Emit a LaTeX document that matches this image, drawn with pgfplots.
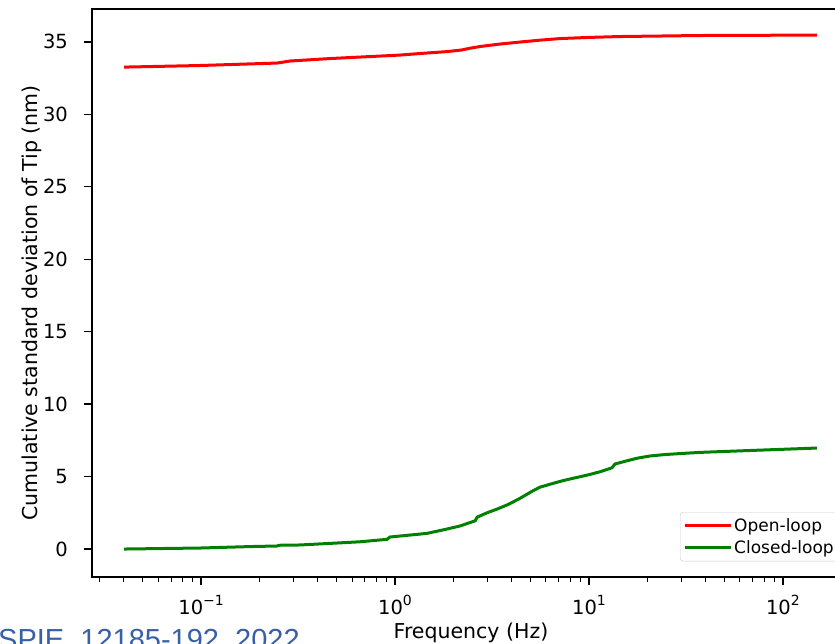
\documentclass[border=0pt]{standalone}
\usepackage{fontspec}
\setmainfont{DejaVu Sans}
\newfontfamily\spiefont{Liberation Sans}
\usepackage{pgfplots}
\pgfplotsset{compat=1.18}
\definecolor{spieblue}{RGB}{55,96,168}
\definecolor{mplgreen}{RGB}{0,128,0}
\newcommand{\expo}[1]{\raisebox{0.45em}{\fontsize{14}{14}\selectfont #1}}
\begin{document}
\begin{tikzpicture}[x=1pt,y=1pt]
\useasboundingbox (0,0) rectangle (835,643);
\clip (0,0) rectangle (835,643);
\begin{axis}[
  at={(92pt,66pt)}, anchor=south west,
  scale only axis, width=760pt, height=568pt,
  xmode=log,
  xmin=0.02739, xmax=227,
  ymin=-1.93, ymax=37.27,
  axis line style={line width=1.6pt},
  tick align=outside,
  tick style={black, line width=1.4pt},
  major tick length=8pt, minor tick length=5pt,
  minor tick style={line width=1pt},
  xtick={0.1,1,10,100},
  minor xtick={0.03,0.04,0.05,0.06,0.07,0.08,0.09,0.2,0.3,0.4,0.5,0.6,0.7,0.8,0.9,2,3,4,5,6,7,8,9,20,30,40,50,60,70,80,90,200},
  xticklabels={10\expo{−1},10\expo{0},10\expo{1},10\expo{2}},
  ytick={0,5,10,15,20,25,30,35},
  xtick pos=bottom, ytick pos=left,
  /pgf/number format/assume math mode=true,
  tick label style={font=\fontsize{19.5}{23}\selectfont},
  yticklabel style={inner sep=0pt, xshift=-16pt, anchor=east},
  xticklabel style={inner sep=0pt, anchor=base, yshift=-29pt},
  legend style={at={(axis description cs:0.7737,0.1144)}, anchor=north west,
    draw=black!20, rounded corners=3pt, fill=white,
    font=\fontsize{17}{20}\selectfont, inner xsep=3pt, inner ysep=4pt,
    row sep=4pt},
  legend cell align=left,
  legend image code/.code={\path (0pt,0pt) -- (46pt,0pt); \draw[#1] (0pt,0pt) -- (38pt,0pt);},
]
\addplot[red, line width=3pt] coordinates {
(0.0401,33.26) (0.099,33.37) (0.2465,33.54) (0.2875,33.68) (0.462,33.85)
(1.06,34.09) (1.35,34.2) (1.854,34.33) (2.2,34.44) (2.43,34.56) (2.74,34.68) (3.47,34.85) (4.41,34.99)
(5.59,35.12) (7.09,35.23) (10.1,35.31) (14.45,35.37) (37.3,35.44) (149.7,35.47)
};
\addlegendentry{Open-loop}
\addplot[mplgreen, line width=3pt] coordinates {
(0.0401,0.00) (0.099,0.07) (0.179,0.17) (0.2465,0.21) (0.252,0.26) (0.324,0.28) (0.660,0.5)
(0.909,0.67) (0.942,0.83) (1.462,1.08) (1.81,1.35) (2.16,1.59) (2.59,1.95)
(2.65,2.2) (2.98,2.5) (3.35,2.75) (3.78,3.04) (4.06,3.25) (4.41,3.5) (5.14,4.02) (5.59,4.27) (6.52,4.53)
(7.34,4.72) (8.27,4.88) (9.77,5.1) (11.4,5.33) (13.14,5.61) (13.62,5.87) (15.7,6.09)
(17.9,6.28) (20.6,6.42) (24.6,6.52) (30.5,6.6) (37.3,6.67) (67.6,6.8) (149.7,6.97)
};
\addlegendentry{Closed-loop}
\end{axis}
\node[rotate=90, anchor=base, font=\fontsize{20.5}{24}\selectfont] at (37,340) {Cumulative standard deviation of Tip (nm)};
\node[anchor=base, font=\fontsize{20.5}{24}\selectfont] at (471,5) {Frequency (Hz)};
\node[anchor=base west, inner sep=0pt, text=spieblue, font=\spiefont\fontsize{29}{30}\selectfont] at (-2,-6) {SPIE\_12185-192\_2022};
\end{tikzpicture}
\end{document}
